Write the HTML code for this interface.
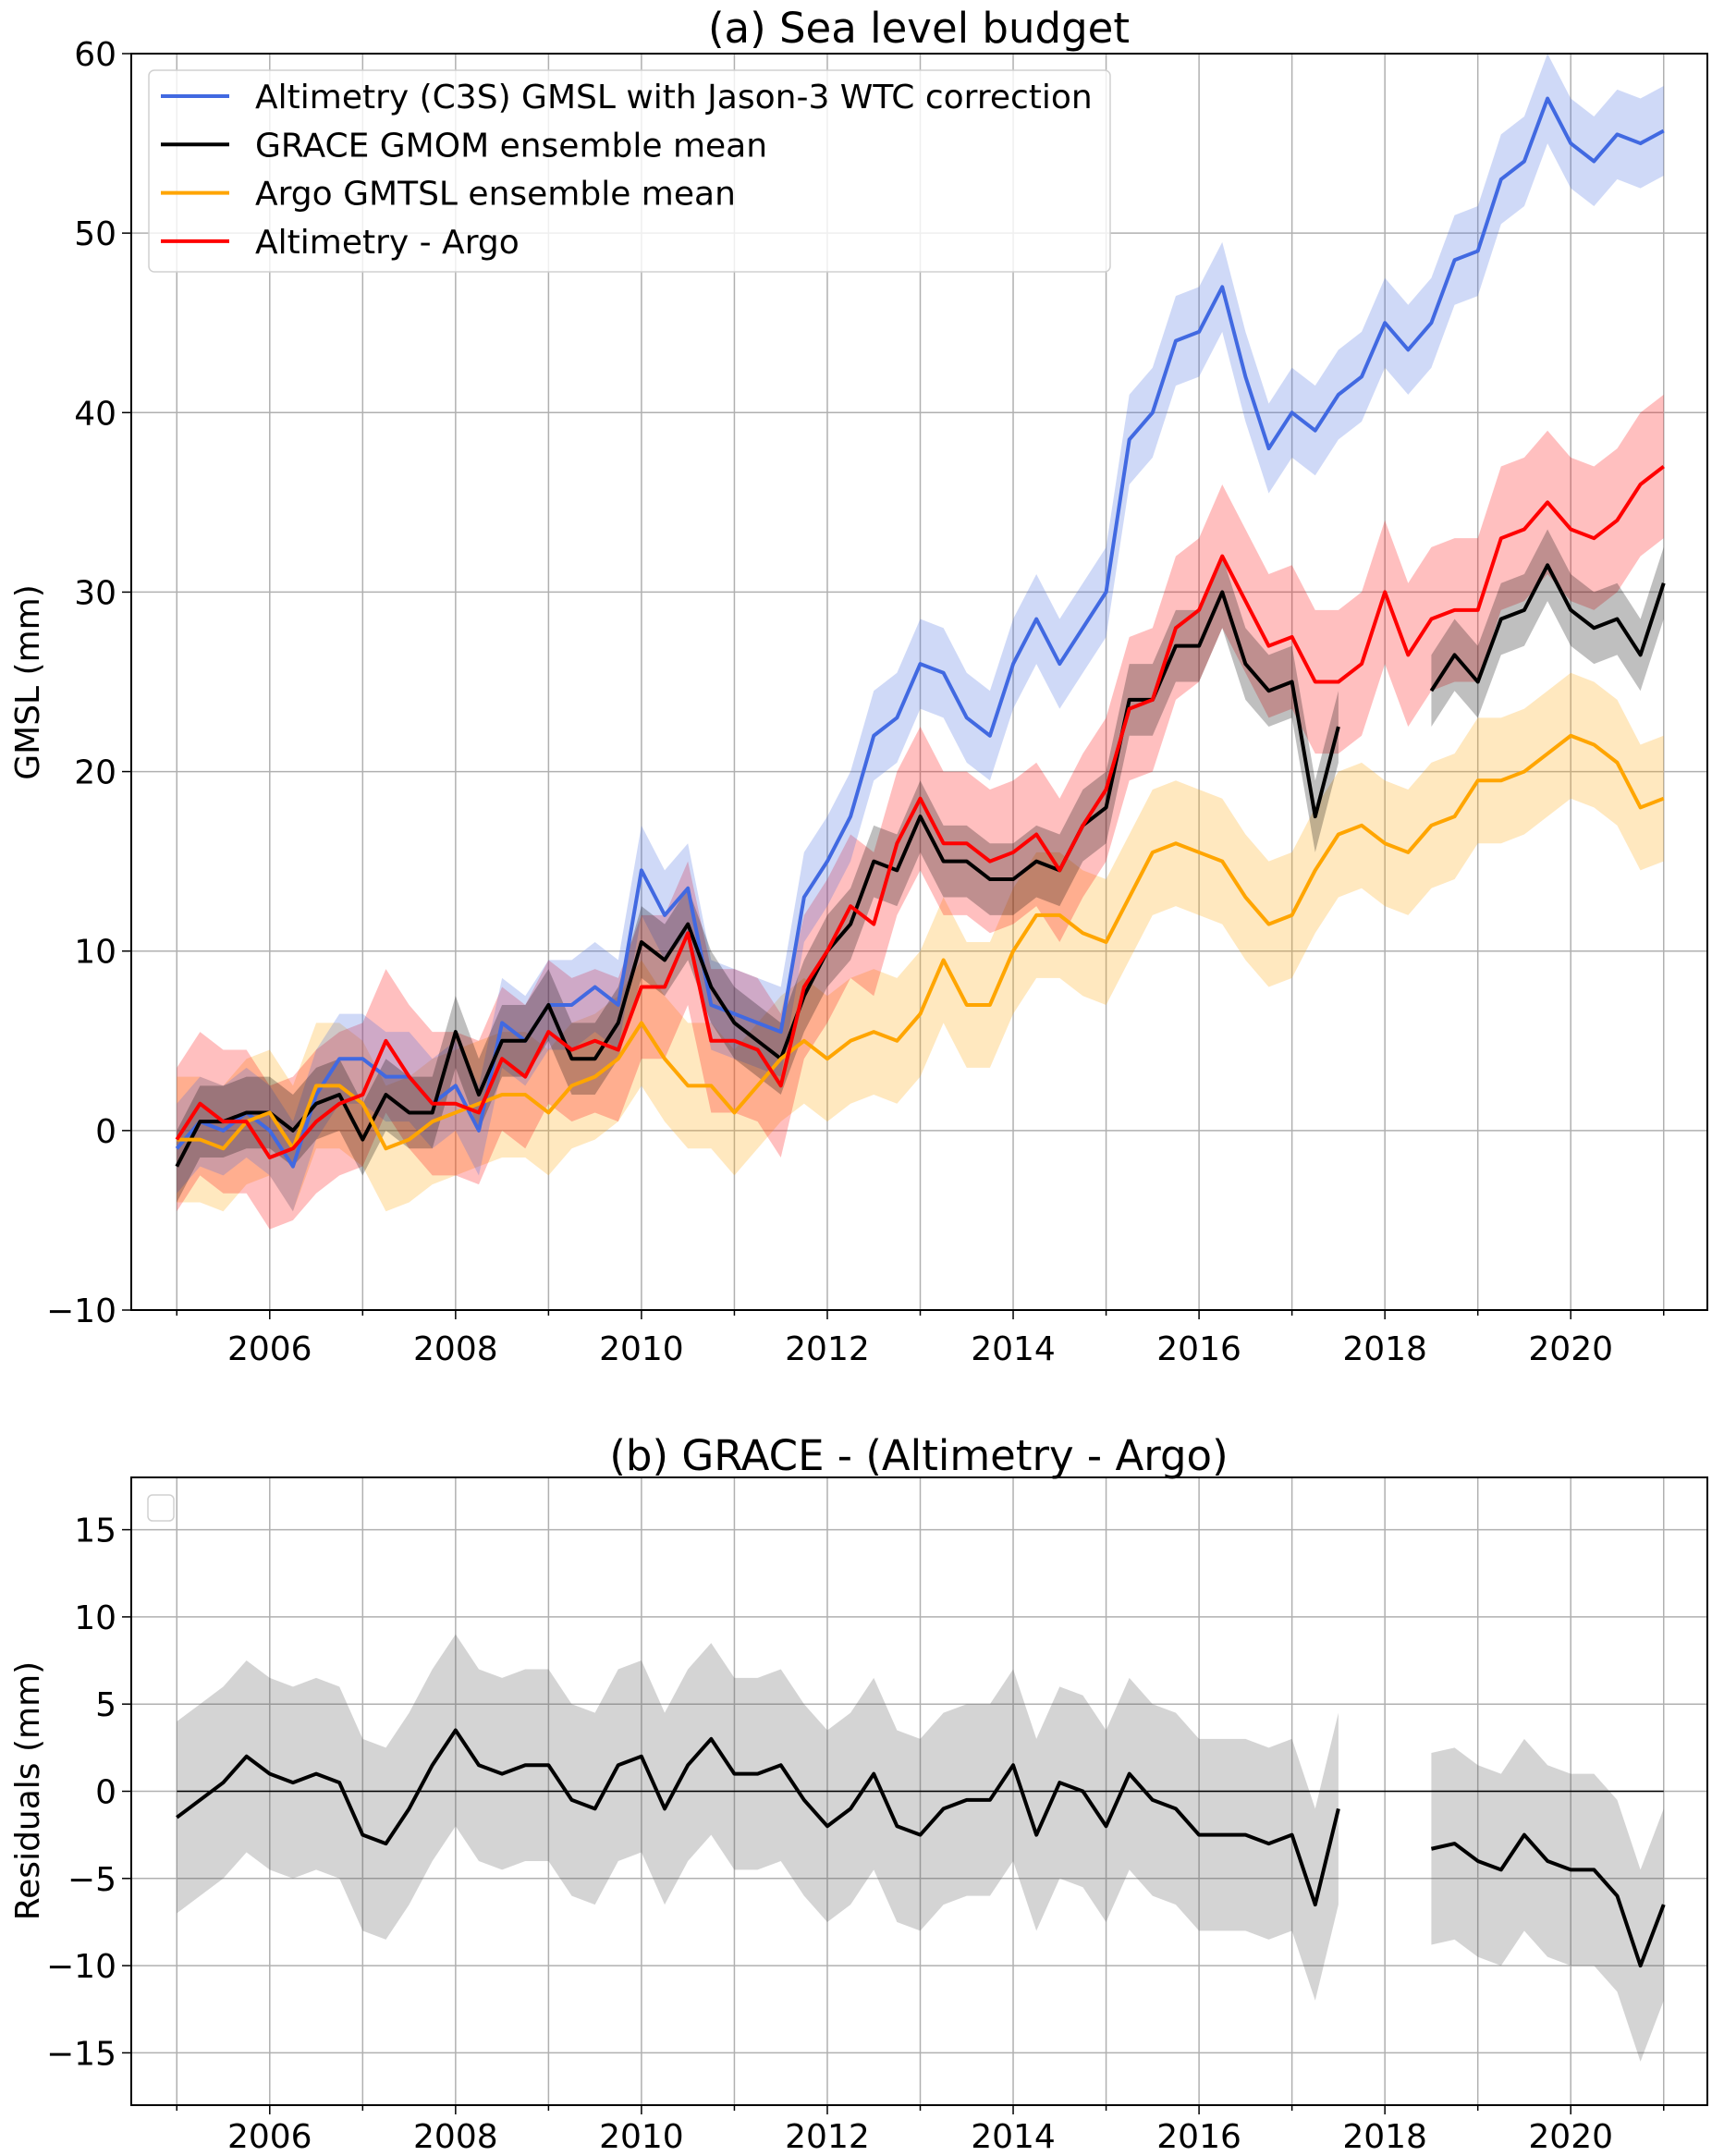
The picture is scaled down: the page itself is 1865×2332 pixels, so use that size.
<!DOCTYPE html>
<html><head><meta charset="utf-8">
<style>body{margin:0;background:#fff}svg{display:block;font-family:"DejaVu Sans","Liberation Sans",sans-serif}</style>
</head><body>
<svg id="c" width="1865" height="2332" viewBox="0 0 1865 2332"></svg>
<script>
const years=[];for(let i=0;i<=64;i++)years.push(2005+i*0.25);
const altimetry=[-1,0.5,0,1,0,-2,2,4,4,3,3,1.5,2.5,0,6,5,7,7,8,7,14.5,12,13.5,7,6.5,6,5.5,13,15,17.5,22,23,26,25.5,23,22,26,28.5,26,28,30,38.5,40,44,44.5,47,42,38,40,39,41,42,45,43.5,45,48.5,49,53,54,57.5,55,54,55.5,55,55.7];
const grace=[-2,0.5,0.5,1,1,0,1.5,2,-0.5,2,1,1,5.5,2,5,5,7,4,4,6,10.5,9.5,11.5,8,6,5,4,7.5,10,11.5,15,14.5,17.5,15,15,14,14,15,14.5,17,18,24,24,27,27,30,26,24.5,25,17.5,22.5,null,null,null,24.5,26.5,25,28.5,29,31.5,29,28,28.5,26.5,30.5];
const argo=[-0.5,-0.5,-1,0.5,1,-1,2.5,2.5,1.5,-1,-0.5,0.5,1,1.5,2,2,1,2.5,3,4,6,4,2.5,2.5,1,2.5,4,5,4,5,5.5,5,6.5,9.5,7,7,10,12,12,11,10.5,13,15.5,16,15.5,15,13,11.5,12,14.5,16.5,17,16,15.5,17,17.5,19.5,19.5,20,21,22,21.5,20.5,18,18.5];
const altMinusArgo=[-0.5,1.5,0.5,0.5,-1.5,-1,0.5,1.5,2,5,3,1.5,1.5,1,4,3,5.5,4.5,5,4.5,8,8,11,5,5,4.5,2.5,8,10,12.5,11.5,16,18.5,16,16,15,15.5,16.5,14.5,17,19,23.5,24,28,29,32,29.5,27,27.5,25,25,26,30,26.5,28.5,29,29,33,33.5,35,33.5,33,34,36,37];
const residuals=[-1.5,-0.5,0.5,2,1,0.5,1,0.5,-2.5,-3,-1,1.5,3.5,1.5,1,1.5,1.5,-0.5,-1,1.5,2,-1,1.5,3,1,1,1.5,-0.5,-2,-1,1,-2,-2.5,-1,-0.5,-0.5,1.5,-2.5,0.5,0,-2,1,-0.5,-1,-2.5,-2.5,-2.5,-3,-2.5,-6.5,-1,null,null,null,-3.3,-3,-4,-4.5,-2.5,-4,-4.5,-4.5,-6,-10,-6.5];
const altErr=[2.5],graceErr=[2],argoErr=[3.5],redErr=[4],resErr=[5.5];
const yTicksTop=[-10,0,10,20,30,40,50,60];
const yTicksBot=[-15,-10,-5,0,5,10,15];
const xTickLabels=[2006,2008,2010,2012,2014,2016,2018,2020];

const NS="http://www.w3.org/2000/svg",svg=document.getElementById('c');
function el(t,a,p){const e=document.createElementNS(NS,t);for(const k in a)e.setAttribute(k,a[k]);(p||svg).appendChild(e);return e;}
const L=142,R=1847,X0=2004.51,X1=2021.47;
const xs=v=>L+(v-X0)/(X1-X0)*(R-L);
function panel(top,bot,ymin,ymax,yt,name,xoff){
  const ys=v=>bot-(v-ymin)/(ymax-ymin)*(bot-top);
  const g=el('g',{});
  
  
  for(let y=2005;y<=2021;y++){const l=el('line',{x1:xs(y),x2:xs(y),y1:top,y2:bot,stroke:'#b0b0b0','stroke-width':1.5},g);
    
    el('line',{x1:xs(y),x2:xs(y),y1:bot,y2:bot+(y%2==0?10:6),stroke:'#000','stroke-width':1.5},g);}
  yt.forEach(v=>{const l=el('line',{x1:L,x2:R,y1:ys(v),y2:ys(v),stroke:'#b0b0b0','stroke-width':1.5},g);
    
    el('line',{x1:L-10,x2:L,y1:ys(v),y2:ys(v),stroke:'#000','stroke-width':1.5},g);
    const t=el('text',{x:L-16,y:ys(v)+13,'text-anchor':'end','font-size':36},g);t.textContent=v<0?'\u2212'+(-v):v;
    });
  xTickLabels.forEach(v=>{const t=el('text',{x:xs(v),y:bot+xoff,'text-anchor':'middle','font-size':36},g);t.textContent=v;
    });
  return {g,ys,top,bot};
}
function segs(vals){const out=[];let cur=[];vals.forEach((v,i)=>{if(v==null){if(cur.length)out.push(cur);cur=[];}else cur.push(i);});if(cur.length)out.push(cur);return out;}
function band(p,vals,err,color,name){segs(vals).forEach(s=>{
  const up=s.map(i=>xs(years[i])+','+p.ys(vals[i]+err[0]));const dn=s.slice().reverse().map(i=>xs(years[i])+','+p.ys(vals[i]-err[0]));
  const e=el('polygon',{points:up.concat(dn).join(' '),fill:color,'fill-opacity':0.25,stroke:'none'},p.g);
  });}
function line(p,vals,color,name){segs(vals).forEach(s=>{
  const e=el('polyline',{points:s.map(i=>xs(years[i])+','+p.ys(vals[i])).join(' '),fill:'none',stroke:color,'stroke-width':4,'stroke-linejoin':'round'},p.g);
  });}

const a=panel(58,1417,-10,60,yTicksTop,'panel-a',54);
band(a,argo,argoErr,'#ffa500','argo-band');band(a,altMinusArgo,redErr,'#ff0000','alt-minus-argo-band');
band(a,altimetry,altErr,'#4169e1','altimetry-band');band(a,grace,graceErr,'#000000','grace-band');
line(a,altimetry,'#4169e1','altimetry-line');line(a,grace,'#000','grace-line');line(a,argo,'#ffa500','argo-line');line(a,altMinusArgo,'#ff0000','alt-minus-argo-line');

const b=panel(1598,2277,-18,18,yTicksBot,'panel-b',46);
band(b,residuals,resErr,'#555555','residual-band');
const z=el('line',{x1:xs(2005),x2:xs(2021),y1:b.ys(0),y2:b.ys(0),stroke:'#000','stroke-width':1.5},b.g);

line(b,residuals,'#000','residual-line');

[[58,1417],[1598,2277]].forEach(([t,bt])=>{const r=el('rect',{x:L,y:t,width:R-L,height:bt-t,fill:'none',stroke:'#000','stroke-width':2});
  });

const lg=el('g',{});
el('rect',{x:161,y:76,width:1040,height:218,rx:6,fill:'#fff','fill-opacity':0.8,stroke:'#d0d0d0','stroke-width':1.5},lg);
[['Altimetry (C3S) GMSL with Jason-3 WTC correction','#4169e1'],['GRACE GMOM ensemble mean','#000'],['Argo GMTSL ensemble mean','#ffa500'],['Altimetry - Argo','#ff0000']].forEach((d,i)=>{
  const y=104+i*52.3;
  const ln=el('line',{x1:174,x2:248,y1:y,y2:y,stroke:d[1],'stroke-width':4},lg);
  
  const t=el('text',{x:276,y:y+13,'font-size':36},lg);t.textContent=d[0];
  });
const eb=el('rect',{x:160,y:1617,width:28,height:28,rx:5,fill:'#fff',stroke:'#d0d0d0','stroke-width':1.5});


function txt(s,x,y,sz,name,rot){const t=el('text',{x:x,y:y,'text-anchor':'middle','font-size':sz});if(rot)t.setAttribute('transform','rotate(-90 '+x+' '+y+')');t.textContent=s;
  }
txt('(a) Sea level budget',994,46,45,'title-a');
txt('(b) GRACE - (Altimetry - Argo)',994,1590,45,'title-b');
txt('GMSL (mm)',42,738,36,'y-axis-title-a',true);
txt('Residuals (mm)',42,1937,36,'y-axis-title-b',true);
</script>
</body></html>
